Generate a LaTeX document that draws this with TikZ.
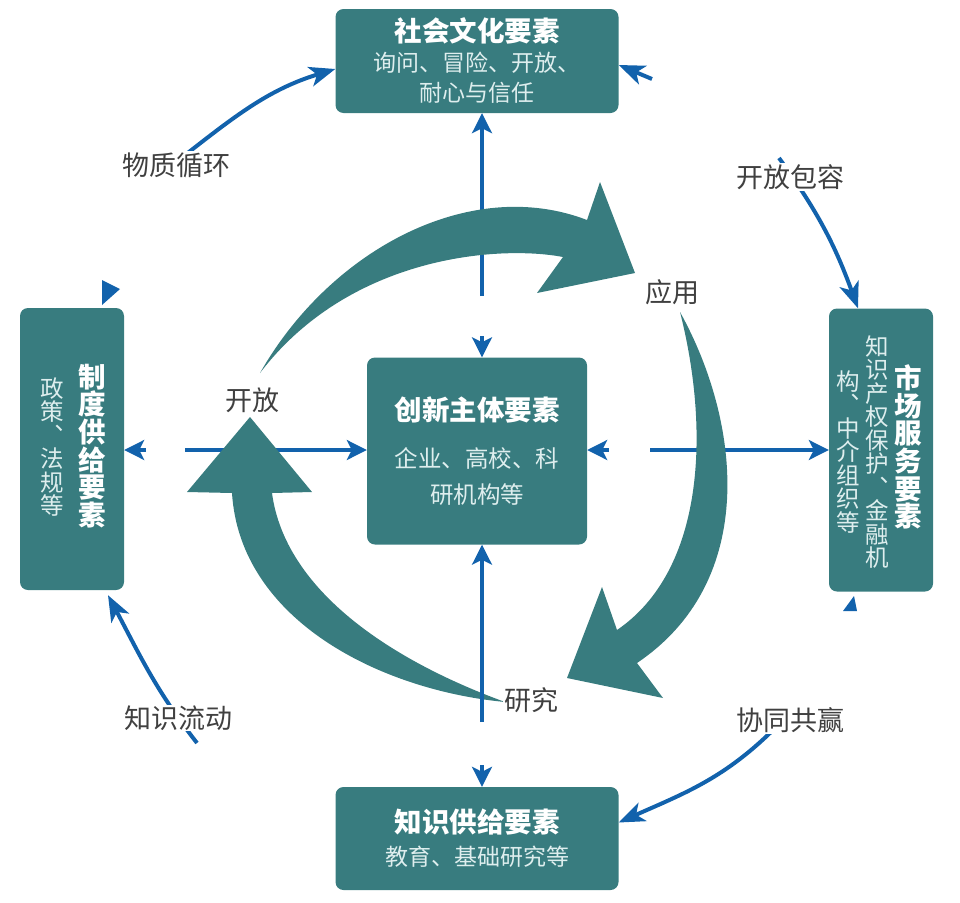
\documentclass[tikz,border=0pt]{standalone}
\usepackage{fontspec}
\setmainfont{Noto Sans CJK SC}
\usetikzlibrary{arrows.meta}
\definecolor{boxteal}{RGB}{56,124,127}
\definecolor{flowblue}{RGB}{18,98,172}
\definecolor{subtext}{RGB}{222,238,238}
\definecolor{labelgray}{RGB}{64,64,64}

\begin{document}
\begin{tikzpicture}[x=1pt,y=-1pt,
  box/.style={fill=boxteal,rounded corners=8pt,inner sep=0pt,align=center,text=subtext},
  head/.style={text=white,font=\bfseries\fontsize{27.5}{27.6}\selectfont,align=center,inner sep=0pt},
  sub/.style={text=subtext,font=\fontsize{23.5}{23.5}\selectfont,align=center,inner sep=0pt},
  flow/.style={draw=flowblue,line width=3.3pt,-{Stealth[length=20pt,width=20pt,inset=5pt]}},
  loop/.style={draw=flowblue,line width=4pt,-{Stealth[length=26pt,width=20pt,inset=7pt]}},
  big/.style={fill=boxteal},
  lbl/.style={text=labelgray,font=\fontsize{27}{30}\selectfont,fill=white,inner sep=1pt}]

  \useasboundingbox (0,0) rectangle (960,902);

  \node[box,minimum width=283pt,minimum height=104pt,font=\fontsize{23}{30}\selectfont] (soc) at (477,61)
    {{\color{white}\bfseries\fontsize{27.5}{30}\selectfont 社会文化要素}\\询问、冒险、开放、\\耐心与信任};
  \node[box,minimum width=220pt,minimum height=187pt,font=\fontsize{23.5}{36}\selectfont] (core) at (477,451)
    {{\color{white}\bfseries\fontsize{27.5}{36}\selectfont 创新主体要素}\\[11pt]企业、高校、科\\研机构等};
  \node[box,minimum width=283pt,minimum height=103pt,font=\fontsize{23}{33}\selectfont] (know) at (477,838.5)
    {{\color{white}\bfseries\fontsize{27.5}{33}\selectfont 知识供给要素}\\教育、基础研究等};
  \node[box,minimum width=104pt,minimum height=282pt] (inst) at (72,449) {};
  \node[box,minimum width=104pt,minimum height=283pt] (mkt) at (881,450) {};

  \node[head] (inst-t) at (92,446) {制\\度\\供\\给\\要\\素};
  \node[sub] (inst-s) at (52,447) {政\\策\\︑\\法\\规\\等};
  \node[head] (mkt-t) at (908,447) {市\\场\\服\\务\\要\\素};
  \node[sub] (mkt-s1) at (877,452) {知\\识\\产\\权\\保\\护\\︑\\金\\融\\机};
  \node[sub] (mkt-s2) at (848,452) {构\\︑\\中\\介\\组\\织\\等};

  \coordinate (t1) at (482,296);
  \coordinate (t2) at (482,336);
  \coordinate (l1) at (185,450);
  \coordinate (l2) at (146,450);
  \coordinate (r1) at (650,450);
  \coordinate (r2) at (609,450);
  \coordinate (b1) at (482,722);
  \coordinate (b2) at (482,765);
  \draw[flow] (t1) -- (t1 |- soc.south);
  \draw[flow] (t2) -- (t2 |- core.north);
  \draw[flow] (l1) -- (l1 -| core.west);
  \draw[flow] (l2) -- (l2 -| inst.east);
  \draw[flow] (r1) -- (r1 -| mkt.west);
  \draw[flow] (r2) -- (r2 -| core.east);
  \draw[flow] (b2) -- (b2 |- know.north);

  \fill[big] (260,373) .. controls (330,250) and (470,175) .. (587,220) -- (600,182) -- (635,273)
    -- (537,293) -- (563,257) .. controls (500,245) and (350,255) .. (260,373) -- cycle;
  \fill[big] (680,312) .. controls (740,420) and (760,580) .. (637,663) -- (663,698) -- (567,678)
    -- (602,587) -- (617,630) .. controls (705,570) and (710,430) .. (680,312) -- cycle;
  \fill[big] (505,702) .. controls (380,690) and (240,620) .. (232,493) -- (187,492) -- (250,417)
    -- (312,492) -- (272,493) .. controls (285,590) and (390,660) .. (505,702) -- cycle;
  \draw[flow] (b1) -- (b1 |- core.south);

  \fill[flowblue] (102,280) -- (120,289) -- (102,305) -- cycle;
  \fill[flowblue] (843,611) -- (854,596) -- (857,611) -- cycle;

  \coordinate (m0) at (180,159);
  \coordinate (k0) at (652,79);
  \coordinate (o0) at (779,158);
  \coordinate (c0) at (775,728);
  \coordinate (f0) at (197,743);
  \draw[loop] (m0) to[out=38,in=197] ([yshift=-8pt]soc.west);
  \draw[loop] (k0) -- ([yshift=-4pt]soc.east);
  \draw[loop] (o0) to[out=-54,in=110] ([xshift=-23pt]mkt.north);
  \draw[loop] (c0) to[out=-135,in=24] ([yshift=16pt]know.east);
  \draw[loop] (f0) to[out=128,in=-62] ([xshift=36pt,yshift=-5pt]inst.south);

  \node[lbl] (mat) at (176,165) {物质循环};
  \node[lbl] (open) at (790,177) {开放包容};
  \node[lbl] (flw) at (178,718) {知识流动};
  \node[lbl] (win) at (790,720) {协同共赢};
  \node[lbl] (app) at (672,292) {应用};
  \node[lbl] (opn) at (252,400) {开放};
  \node[lbl] (res) at (531,700) {研究};
\end{tikzpicture}
\end{document}
